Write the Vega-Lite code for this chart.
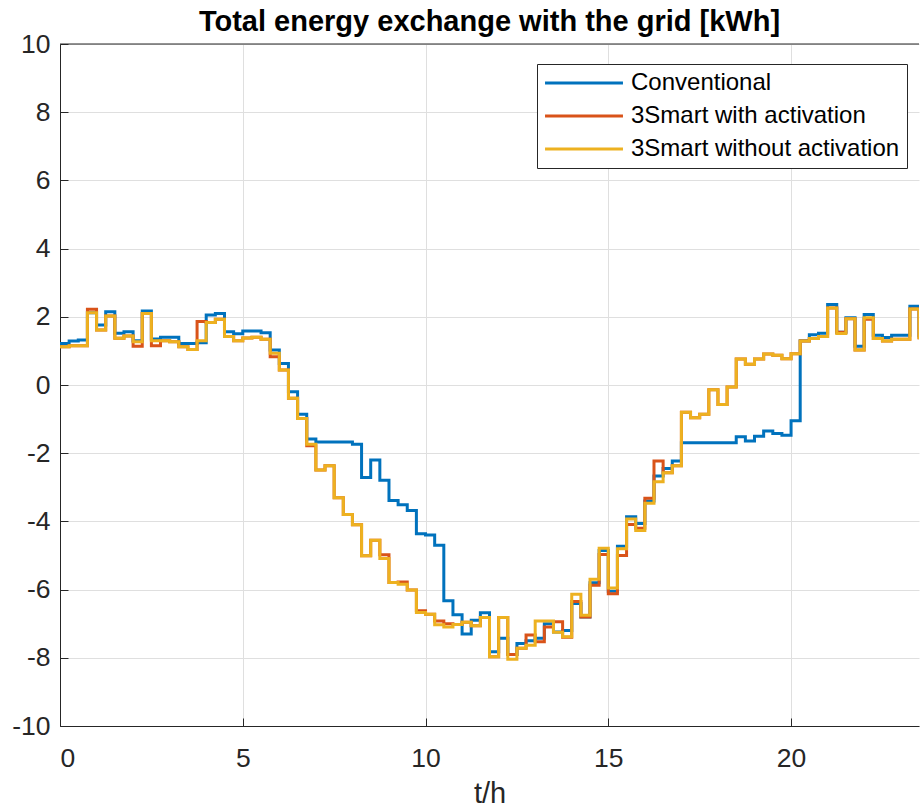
{
  "$schema": "https://vega.github.io/schema/vega-lite/v6.json",
  "width": 859,
  "height": 682,
  "autosize": {"type": "none"},
  "padding": {"left": 60, "top": 44, "right": 1, "bottom": 86},
  "background": "white",
  "config": {
    "font": "Liberation Sans",
    "view": {"stroke": null},
    "axis": {
      "labelFont": "Liberation Sans",
      "labelFontSize": 26.5,
      "labelColor": "#262626",
      "titleFont": "Liberation Sans",
      "titleFontSize": 29,
      "titleFontWeight": "normal",
      "titleColor": "#262626",
      "domainColor": "#262626",
      "tickColor": "#262626",
      "gridColor": "#dfdfdf",
      "gridWidth": 1
    }
  },
  "title": {
    "text": "Total energy exchange with the grid [kWh]",
    "font": "Liberation Sans",
    "fontSize": 29,
    "fontWeight": "bold",
    "color": "#000000",
    "anchor": "middle",
    "offset": -6
  },
  "data": {"values": [
    {"t":0,"Conventional":1.22,"3Smart with activation":1.12,"3Smart without activation":1.12},
    {"t":0.25,"Conventional":1.29,"3Smart with activation":1.15,"3Smart without activation":1.15},
    {"t":0.5,"Conventional":1.32,"3Smart with activation":1.15,"3Smart without activation":1.15},
    {"t":0.75,"Conventional":2.12,"3Smart with activation":2.22,"3Smart without activation":2.12},
    {"t":1,"Conventional":1.76,"3Smart with activation":1.61,"3Smart without activation":1.61},
    {"t":1.25,"Conventional":2.15,"3Smart with activation":2.02,"3Smart without activation":2.02},
    {"t":1.5,"Conventional":1.52,"3Smart with activation":1.37,"3Smart without activation":1.37},
    {"t":1.75,"Conventional":1.56,"3Smart with activation":1.44,"3Smart without activation":1.44},
    {"t":2,"Conventional":1.30,"3Smart with activation":1.14,"3Smart without activation":1.27},
    {"t":2.25,"Conventional":2.17,"3Smart with activation":2.10,"3Smart without activation":2.10},
    {"t":2.5,"Conventional":1.35,"3Smart with activation":1.15,"3Smart without activation":1.30},
    {"t":2.75,"Conventional":1.40,"3Smart with activation":1.30,"3Smart without activation":1.30},
    {"t":3,"Conventional":1.40,"3Smart with activation":1.27,"3Smart without activation":1.27},
    {"t":3.25,"Conventional":1.22,"3Smart with activation":1.12,"3Smart without activation":1.12},
    {"t":3.5,"Conventional":1.22,"3Smart with activation":1.04,"3Smart without activation":1.04},
    {"t":3.75,"Conventional":1.24,"3Smart with activation":1.86,"3Smart without activation":1.30},
    {"t":4,"Conventional":2.05,"3Smart with activation":1.83,"3Smart without activation":1.83},
    {"t":4.25,"Conventional":2.10,"3Smart with activation":1.93,"3Smart without activation":1.93},
    {"t":4.5,"Conventional":1.56,"3Smart with activation":1.42,"3Smart without activation":1.42},
    {"t":4.75,"Conventional":1.50,"3Smart with activation":1.30,"3Smart without activation":1.30},
    {"t":5,"Conventional":1.58,"3Smart with activation":1.38,"3Smart without activation":1.38},
    {"t":5.25,"Conventional":1.58,"3Smart with activation":1.40,"3Smart without activation":1.40},
    {"t":5.5,"Conventional":1.53,"3Smart with activation":1.34,"3Smart without activation":1.34},
    {"t":5.75,"Conventional":1.03,"3Smart with activation":0.83,"3Smart without activation":0.93},
    {"t":6,"Conventional":0.63,"3Smart with activation":0.44,"3Smart without activation":0.44},
    {"t":6.25,"Conventional":-0.20,"3Smart with activation":-0.39,"3Smart without activation":-0.39},
    {"t":6.5,"Conventional":-0.86,"3Smart with activation":-0.98,"3Smart without activation":-0.98},
    {"t":6.75,"Conventional":-1.58,"3Smart with activation":-1.78,"3Smart without activation":-1.74},
    {"t":7,"Conventional":-1.67,"3Smart with activation":-2.49,"3Smart without activation":-2.49},
    {"t":7.25,"Conventional":-1.67,"3Smart with activation":-2.37,"3Smart without activation":-2.37},
    {"t":7.5,"Conventional":-1.67,"3Smart with activation":-3.31,"3Smart without activation":-3.31},
    {"t":7.75,"Conventional":-1.67,"3Smart with activation":-3.80,"3Smart without activation":-3.80},
    {"t":8,"Conventional":-1.74,"3Smart with activation":-4.10,"3Smart without activation":-4.10},
    {"t":8.25,"Conventional":-2.71,"3Smart with activation":-5.01,"3Smart without activation":-5.01},
    {"t":8.5,"Conventional":-2.20,"3Smart with activation":-4.55,"3Smart without activation":-4.55},
    {"t":8.75,"Conventional":-2.79,"3Smart with activation":-4.98,"3Smart without activation":-5.09},
    {"t":9,"Conventional":-3.39,"3Smart with activation":-5.79,"3Smart without activation":-5.79},
    {"t":9.25,"Conventional":-3.51,"3Smart with activation":-5.78,"3Smart without activation":-5.84},
    {"t":9.5,"Conventional":-3.68,"3Smart with activation":-6.01,"3Smart without activation":-6.01},
    {"t":9.75,"Conventional":-4.36,"3Smart with activation":-6.62,"3Smart without activation":-6.67},
    {"t":10,"Conventional":-4.40,"3Smart with activation":-6.72,"3Smart without activation":-6.72},
    {"t":10.25,"Conventional":-4.70,"3Smart with activation":-6.92,"3Smart without activation":-7.03},
    {"t":10.5,"Conventional":-6.33,"3Smart with activation":-7.00,"3Smart without activation":-7.10},
    {"t":10.75,"Conventional":-6.74,"3Smart with activation":-7.02,"3Smart without activation":-7.02},
    {"t":11,"Conventional":-7.30,"3Smart with activation":-6.96,"3Smart without activation":-6.96},
    {"t":11.25,"Conventional":-6.90,"3Smart with activation":-7.06,"3Smart without activation":-7.06},
    {"t":11.5,"Conventional":-6.68,"3Smart with activation":-6.82,"3Smart without activation":-6.82},
    {"t":11.75,"Conventional":-7.82,"3Smart with activation":-7.97,"3Smart without activation":-7.97},
    {"t":12,"Conventional":-7.43,"3Smart with activation":-6.82,"3Smart without activation":-6.82},
    {"t":12.25,"Conventional":-7.90,"3Smart with activation":-7.90,"3Smart without activation":-8.04},
    {"t":12.5,"Conventional":-7.58,"3Smart with activation":-7.72,"3Smart without activation":-7.72},
    {"t":12.75,"Conventional":-7.50,"3Smart with activation":-7.33,"3Smart without activation":-7.63},
    {"t":13,"Conventional":-7.43,"3Smart with activation":-7.53,"3Smart without activation":-6.92},
    {"t":13.25,"Conventional":-7.00,"3Smart with activation":-7.10,"3Smart without activation":-6.92},
    {"t":13.5,"Conventional":-7.24,"3Smart with activation":-6.94,"3Smart without activation":-7.25},
    {"t":13.75,"Conventional":-7.20,"3Smart with activation":-7.40,"3Smart without activation":-7.38},
    {"t":14,"Conventional":-6.41,"3Smart with activation":-6.35,"3Smart without activation":-6.14},
    {"t":14.25,"Conventional":-6.80,"3Smart with activation":-6.80,"3Smart without activation":-6.75},
    {"t":14.5,"Conventional":-5.80,"3Smart with activation":-5.87,"3Smart without activation":-5.70},
    {"t":14.75,"Conventional":-4.85,"3Smart with activation":-4.97,"3Smart without activation":-4.79},
    {"t":15,"Conventional":-6.05,"3Smart with activation":-6.12,"3Smart without activation":-5.95},
    {"t":15.25,"Conventional":-4.73,"3Smart with activation":-5.00,"3Smart without activation":-4.80},
    {"t":15.5,"Conventional":-3.86,"3Smart with activation":-4.09,"3Smart without activation":-3.93},
    {"t":15.75,"Conventional":-4.06,"3Smart with activation":-4.20,"3Smart without activation":-4.27},
    {"t":16,"Conventional":-3.40,"3Smart with activation":-3.32,"3Smart without activation":-3.47},
    {"t":16.25,"Conventional":-2.67,"3Smart with activation":-2.23,"3Smart without activation":-2.84},
    {"t":16.5,"Conventional":-2.45,"3Smart with activation":-2.57,"3Smart without activation":-2.57},
    {"t":16.75,"Conventional":-2.23,"3Smart with activation":-2.37,"3Smart without activation":-2.37},
    {"t":17,"Conventional":-1.69,"3Smart with activation":-0.80,"3Smart without activation":-0.80},
    {"t":17.25,"Conventional":-1.69,"3Smart with activation":-0.96,"3Smart without activation":-0.96},
    {"t":17.5,"Conventional":-1.69,"3Smart with activation":-0.86,"3Smart without activation":-0.86},
    {"t":17.75,"Conventional":-1.69,"3Smart with activation":-0.14,"3Smart without activation":-0.14},
    {"t":18,"Conventional":-1.69,"3Smart with activation":-0.57,"3Smart without activation":-0.57},
    {"t":18.25,"Conventional":-1.69,"3Smart with activation":-0.06,"3Smart without activation":-0.06},
    {"t":18.5,"Conventional":-1.52,"3Smart with activation":0.76,"3Smart without activation":0.76},
    {"t":18.75,"Conventional":-1.64,"3Smart with activation":0.61,"3Smart without activation":0.61},
    {"t":19,"Conventional":-1.50,"3Smart with activation":0.76,"3Smart without activation":0.76},
    {"t":19.25,"Conventional":-1.35,"3Smart with activation":0.91,"3Smart without activation":0.91},
    {"t":19.5,"Conventional":-1.42,"3Smart with activation":0.87,"3Smart without activation":0.87},
    {"t":19.75,"Conventional":-1.47,"3Smart with activation":0.77,"3Smart without activation":0.77},
    {"t":20,"Conventional":-1.05,"3Smart with activation":0.92,"3Smart without activation":0.92},
    {"t":20.25,"Conventional":1.30,"3Smart with activation":1.29,"3Smart without activation":1.29},
    {"t":20.5,"Conventional":1.47,"3Smart with activation":1.36,"3Smart without activation":1.36},
    {"t":20.75,"Conventional":1.52,"3Smart with activation":1.42,"3Smart without activation":1.42},
    {"t":21,"Conventional":2.36,"3Smart with activation":2.26,"3Smart without activation":2.26},
    {"t":21.25,"Conventional":1.55,"3Smart with activation":1.55,"3Smart without activation":1.51},
    {"t":21.5,"Conventional":1.97,"3Smart with activation":1.94,"3Smart without activation":1.94},
    {"t":21.75,"Conventional":1.14,"3Smart with activation":1.03,"3Smart without activation":1.03},
    {"t":22,"Conventional":2.07,"3Smart with activation":1.93,"3Smart without activation":1.97},
    {"t":22.25,"Conventional":1.46,"3Smart with activation":1.36,"3Smart without activation":1.36},
    {"t":22.5,"Conventional":1.39,"3Smart with activation":1.29,"3Smart without activation":1.29},
    {"t":22.75,"Conventional":1.46,"3Smart with activation":1.34,"3Smart without activation":1.34},
    {"t":23,"Conventional":1.46,"3Smart with activation":1.34,"3Smart without activation":1.34},
    {"t":23.25,"Conventional":2.31,"3Smart with activation":2.23,"3Smart without activation":2.23},
    {"t":23.5,"Conventional":1.40,"3Smart with activation":1.34,"3Smart without activation":1.34}
  ]},
  "transform": [
    {"fold": ["Conventional", "3Smart with activation", "3Smart without activation"], "as": ["s", "v"]}
  ],
  "encoding": {
    "x": {
      "field": "t", "type": "quantitative",
      "scale": {"domain": [0, 23.5], "nice": false, "zero": false},
      "axis": {"values": [0, 5, 10, 15, 20], "title": "t/h", "grid": true, "tickSize": -8, "labelPadding": 27, "titlePadding": 8}
    },
    "y": {
      "field": "v", "type": "quantitative",
      "scale": {"domain": [-10, 10], "nice": false},
      "axis": {"values": [-10, -8, -6, -4, -2, 0, 2, 4, 6, 8, 10], "title": null, "grid": true, "tickSize": -8, "labelPadding": 18,
               "labelExpr": "datum.value < 0 ? '-' + abs(datum.value) : '' + datum.value"}
    },
    "color": {
      "field": "s", "type": "nominal",
      "scale": {"domain": ["Conventional", "3Smart with activation", "3Smart without activation"], "range": ["#0072BD", "#D95319", "#EDB120"]},
      "legend": {
        "orient": "none", "legendX": 477, "legendY": 20, "title": null,
        "labelFont": "Liberation Sans", "labelFontSize": 24, "labelColor": "#000000", "labelLimit": 500,
        "symbolType": "M-5,0H5", "symbolSize": 243, "symbolStrokeWidth": 3, "symbolOffset": 28,
        "strokeColor": "#262626", "fillColor": "white", "padding": 7, "rowPadding": 9, "labelOffset": 35
      }
    }
  },
  "layer": [
    {"transform": [{"filter": "datum.s === 'Conventional'"}], "mark": {"type": "line", "interpolate": "step-after", "strokeWidth": 3, "clip": true}},
    {"transform": [{"filter": "datum.s === '3Smart with activation'"}], "mark": {"type": "line", "interpolate": "step-after", "strokeWidth": 3, "clip": true}},
    {"transform": [{"filter": "datum.s === '3Smart without activation'"}], "mark": {"type": "line", "interpolate": "step-after", "strokeWidth": 3, "clip": true}},
    {"data": {"values": [{"top": 10}]}, "transform": [], "mark": {"type": "rule", "color": "#262626", "strokeWidth": 1}, "encoding": {"y": {"field": "top", "type": "quantitative"}, "x": {"value": 0}, "x2": {"value": 859}, "color": {"value": "#262626"}}}
  ]
}
